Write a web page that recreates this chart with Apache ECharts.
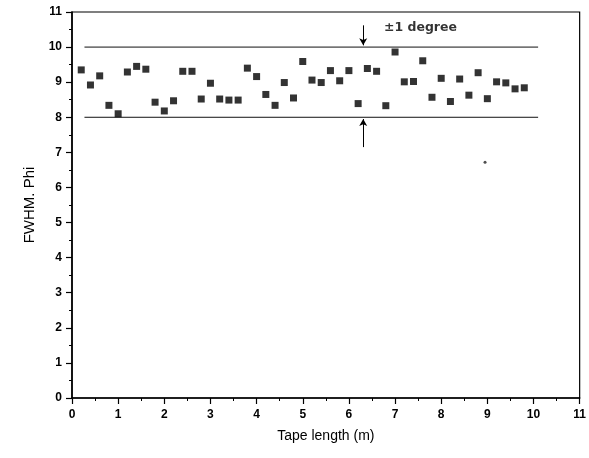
<!DOCTYPE html>
<html><head><meta charset="utf-8">
<script src="https://cdn.jsdelivr.net/npm/echarts@6/dist/echarts.min.js"></script>
<style>html,body{margin:0;padding:0;background:#fff}#c{width:589px;height:458px}</style>
</head><body><div id="c"></div>
<script>
const tapeLength = [0.2,0.4,0.6,0.8,1.0,1.2,1.4,1.6,1.8,2.0,2.2,2.4,2.6,2.8,3.0,3.2,3.4,3.6,3.8,4.0,4.2,4.4,4.6,4.8,5.0,5.2,5.4,5.6,5.8,6.0,6.2,6.4,6.6,6.8,7.0,7.2,7.4,7.6,7.8,8.0,8.2,8.4,8.6,8.8,9.0,9.2,9.4,9.6,9.8];
const fwhmPhi = [9.35,8.92,9.18,8.34,8.10,9.29,9.45,9.37,8.43,8.18,8.47,9.31,9.31,8.52,8.97,8.52,8.49,8.49,9.40,9.16,8.65,8.34,8.99,8.55,9.59,9.06,8.99,9.33,9.04,9.33,8.39,9.39,9.31,8.33,9.86,9.01,9.02,9.61,8.57,9.11,8.45,9.09,8.63,9.27,8.53,9.01,8.98,8.81,8.84];
const limitLinesY = [8, 10];
const limitLinesX = [0.27, 10.1];
const arrowX = 6.31;
const upperArrowY = [10.62, 10.05];
const lowerArrowY = [7.15, 7.95];
const annotation = {x: 6.76, y: 10.56, text: '±1 degree'};
const strayDot = [[8.95, 6.72]];
const xTicks = [0,1,2,3,4,5,6,7,8,9,10,11];
const yTicks = [0,1,2,3,4,5,6,7,8,9,10,11];

const chart = echarts.init(document.getElementById('c'), null, {renderer:'canvas'});
const tickLabel = {color:'#000', fontFamily:'Liberation Sans, Arial', fontWeight:'bold', fontSize:12};
const xNameStyle = {color:'#000', fontFamily:'Liberation Sans, Arial', fontSize:14};
const yNameStyle = {color:'#000', fontFamily:'Liberation Sans, Arial', fontSize:15};

const series = [];
series.push({
  type:'scatter', data: tapeLength.map((x,i)=>[x, fwhmPhi[i]]),
  symbol:'rect', symbolSize:7, itemStyle:{color:'#000'}, z:5
});
limitLinesY.forEach(y=>{
  series.push({type:'line', data: limitLinesX.map(x=>[x,y]), symbol:'none',
    lineStyle:{color:'#111', width:1}, silent:true});
});
series.push({type:'line', data:[], markLine:{
  silent:true, symbol:['none','arrow'], symbolSize:[6,7], label:{show:false},
  lineStyle:{color:'#000', width:1, type:'solid'},
  data:[
    [{coord:[arrowX, upperArrowY[0]]},{coord:[arrowX, upperArrowY[1]]}],
    [{coord:[arrowX, lowerArrowY[0]]},{coord:[arrowX, lowerArrowY[1]]}]
  ]}});
series.push({type:'scatter', data:[[annotation.x, annotation.y]], symbolSize:0,
  label:{show:true, position:'right', distance:0, formatter:annotation.text,
    color:'#000', fontFamily:'DejaVu Sans', fontWeight:'bold', fontSize:12.5}});
series.push({type:'scatter', data:strayDot, symbol:'circle', symbolSize:3, itemStyle:{color:'#222'}});

chart.setOption({
  animation:false,
  grid:{left:72, right:8, top:12, bottom:60, show:true, borderColor:'#000', borderWidth:1.2, containLabel:false},
  xAxis:{type:'value', min:xTicks[0], max:xTicks[xTicks.length-1], interval:1,
    name:'Tape length (m)', nameLocation:'middle', nameGap:31, nameTextStyle:xNameStyle,
    axisLine:{show:true, lineStyle:{color:'#000', width:1.6}},
    axisTick:{show:true, inside:false, length:6, lineStyle:{color:'#000', width:1.2}},
    minorTick:{show:true, splitNumber:2, length:3, lineStyle:{color:'#000', width:1}},
    axisLabel:Object.assign({margin:11}, tickLabel),
    splitLine:{show:false}},
  yAxis:{type:'value', min:yTicks[0], max:yTicks[yTicks.length-1], interval:1,
    name:'FWHM. Phi', nameLocation:'middle', nameGap:29, nameTextStyle:yNameStyle,
    axisLine:{show:true, lineStyle:{color:'#000', width:1.6}},
    axisTick:{show:true, inside:false, length:6, lineStyle:{color:'#000', width:1.2}},
    minorTick:{show:true, splitNumber:2, length:3, lineStyle:{color:'#000', width:1}},
    axisLabel:Object.assign({margin:10}, tickLabel),
    splitLine:{show:false}},
  series: series
});
</script></body></html>
